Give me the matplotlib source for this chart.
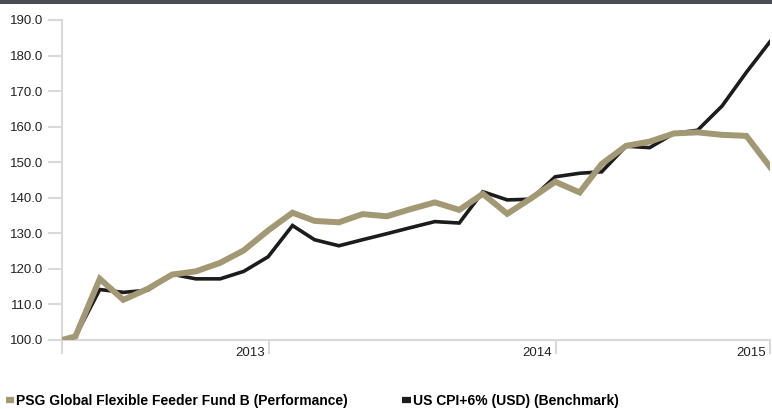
import matplotlib
matplotlib.use("Agg")
import matplotlib.pyplot as plt
import matplotlib.dates as mdates
from matplotlib.lines import Line2D
from matplotlib.patches import Rectangle
import matplotlib.transforms as mtransforms
import pandas as pd

# ---- data ----
dates = ["2012-04-13", "2012-04-30", "2012-05-31", "2012-06-30", "2012-07-31",
         "2012-08-31", "2012-09-30", "2012-10-31", "2012-11-30", "2012-12-31",
         "2013-01-31", "2013-02-28", "2013-03-31", "2013-04-30", "2013-05-31",
         "2013-06-30", "2013-07-31", "2013-08-31", "2013-09-30", "2013-10-31",
         "2013-11-30", "2013-12-31", "2014-01-31", "2014-02-28", "2014-03-31",
         "2014-04-30", "2014-05-31", "2014-06-30", "2014-07-31", "2014-08-31",
         "2014-09-30"]
fund = [100.0, 101.0, 117.2, 111.3, 114.4, 118.4, 119.3, 121.7, 125.2, 130.8,
        135.8, 133.5, 133.1, 135.4, 134.8, 136.8, 138.7, 136.6, 141.1, 135.5,
        139.8, 144.5, 141.5, 149.5, 154.6, 155.8, 158.1, 158.4, 157.7, 157.4,
        148.7]
bench = [100.0, 101.0, 114.2, 113.4, 114.0, 118.5, 117.2, 117.2, 119.3, 123.4,
         132.2, 128.2, 126.5, 128.2, 129.9, 131.6, 133.3, 132.9, 141.7, 139.4,
         139.6, 145.9, 146.9, 147.3, 154.5, 154.1, 158.1, 159.0, 165.8, 175.3,
         183.9]
fund_label = "PSG Global Flexible Feeder Fund B (Performance)"
bench_label = "US CPI+6% (USD) (Benchmark)"
y_ticks = [100, 110, 120, 130, 140, 150, 160, 170, 180, 190]
x_tick_dates = ["2013-01-01", "2014-01-01"]
x_tick_labels = ["2013", "2014", "2015"]

x = pd.to_datetime(dates)

TAN = "#A39874"
BLACK = "#1c1c1c"
GRID = "#d9d9d9"
FONT = ["Liberation Sans Narrow", "Liberation Sans", "DejaVu Sans"]

W, H = 772, 409
fig = plt.figure(figsize=(W / 100, H / 100), dpi=100)
fig.patch.set_facecolor("white")

# top dark band
fig.patches.append(Rectangle((0, 1 - 4 / H), 1, 4 / H, transform=fig.transFigure,
                             facecolor="#484d55", edgecolor="none"))

ax = fig.add_axes([62 / W, 1 - 340 / H, (770 - 62) / W, (340 - 20) / H])
ax.plot(x, bench, color=BLACK, lw=2.6, solid_joinstyle="miter", zorder=3)
ax.plot(x, fund, color=TAN, lw=4.3, solid_joinstyle="miter", zorder=4)

ax.set_xlim(x[0], x[-1])
ax.set_ylim(100, 190)

for s in ["top", "right"]:
    ax.spines[s].set_visible(False)
for s in ["left", "bottom"]:
    ax.spines[s].set_color(GRID)
    ax.spines[s].set_linewidth(1.5)

ax.set_yticks(y_ticks)
ax.set_yticklabels([f"{v:.1f}" for v in y_ticks], family=FONT, fontsize=9.5,
                   color="#222222")
ax.tick_params(axis="y", length=10, width=1.5, color=GRID, pad=3.5)

xt = [x[0]] + list(pd.to_datetime(x_tick_dates)) + [x[-1]]
ax.set_xticks(xt)
ax.set_xticklabels([""] + x_tick_labels, family=FONT, fontsize=9.5, color="#222222")
ax.tick_params(axis="x", length=10, width=1.5, color=GRID, pad=-5)
off = mtransforms.ScaledTranslation(-4 / 100, 0, fig.dpi_scale_trans)
for lab in ax.get_xticklabels():
    lab.set_horizontalalignment("right")
    lab.set_transform(lab.get_transform() + off)

handles = [Line2D([], [], color=TAN, lw=4.5, solid_capstyle="butt"),
           Line2D([], [], color=BLACK, lw=4.5, solid_capstyle="butt")]
leg = fig.legend(handles, [fund_label, bench_label], loc="center left",
                 bbox_to_anchor=(6 / W, 1 - 401 / H), ncol=2, frameon=False,
                 handlelength=0.6, handletextpad=0.15, columnspacing=3.9,
                 borderaxespad=0, borderpad=0,
                 prop={"family": FONT, "weight": "bold", "size": 10})

fig.savefig("out.png", dpi=100)
